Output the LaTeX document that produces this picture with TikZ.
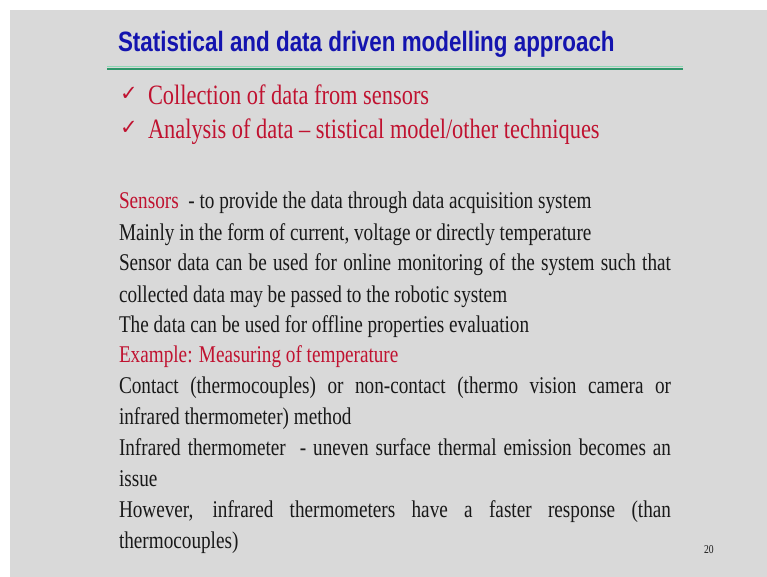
\documentclass[tikz,border=0pt]{standalone}
\usepackage{fontspec}
\setmainfont{Liberation Serif}[FakeStretch=0.8]
\newfontfamily\headfont{Liberation Sans}[FakeStretch=0.8]
\newfontfamily\tickfont{DejaVu Sans}
\definecolor{slidegray}{RGB}{217,217,217}
\definecolor{headblue}{RGB}{20,20,175}
\definecolor{slidered}{RGB}{192,18,48}
\definecolor{ruledark}{RGB}{45,150,105}
\definecolor{rulelight}{RGB}{140,215,180}
\definecolor{bodyink}{RGB}{25,25,25}
\tikzset{
  txt/.style={anchor=base west, inner sep=0pt, outer sep=0pt},
  headline/.style={txt, text=headblue, font=\headfont\bfseries\fontsize{28pt}{28pt}\selectfont},
  bullet/.style={txt, text=slidered, font=\fontsize{28pt}{28pt}\selectfont},
  tick/.style={txt, text=slidered, font=\tickfont\fontsize{21pt}{21pt}\selectfont},
  body/.style={txt, text=bodyink, font=\fontsize{24pt}{24pt}\selectfont},
  redbody/.style={body, text=slidered},
  pagenum/.style={txt, text=bodyink, font=\fontsize{12pt}{12pt}\selectfont}
}
\newcommand{\fullline}[1]{\makebox[552pt][s]{#1}}
\begin{document}
\begin{tikzpicture}[x=1pt,y=-1pt]
  \useasboundingbox (0,0) rectangle (767,577);
  \fill[white] (0,0) rectangle (767,577);
  \fill[slidegray] (10,10) rectangle (767,577);

  % heading and rule
  \node[headline] (title) at (118,52) {Statistical and data driven modelling approach};
  \draw[rulelight, line width=1.8pt] (107,66.6) -- (683,66.6);
  \draw[ruledark, line width=1.6pt] (107,68.9) -- (683,68.9);

  % ticked points
  \node[tick] (t1) at (120,101) {✓};
  \node[bullet] (b1) at (148,105) {Collection of data from sensors};
  \node[tick] (t2) at (120,135) {✓};
  \node[bullet] (b2) at (148,139) {Analysis of data – stistical model/other techniques};

  % body text
  \node[redbody] (l1r) at (119,208) {Sensors};
  \node[body] (l1) at (l1r.base east) {\ \ - to provide the data through data acquisition system};
  \node[body] (l2) at (119,240) {Mainly in the form of current, voltage or directly temperature};
  \node[body] (l3) at (119,270) {\fullline{Sensor data can be used for online monitoring of the system such that}};
  \node[body] (l4) at (119,302) {collected data may be passed to the robotic system};
  \node[body] (l5) at (119,332) {The data can be used for offline properties evaluation};
  \node[redbody] (l6) at (119,362) {Example: Measuring of temperature};
  \node[body] (l7) at (119,393) {\fullline{Contact (thermocouples) or non-contact (thermo vision camera or}};
  \node[body] (l8) at (119,424) {infrared thermometer) method};
  \node[body] (l9) at (119,455) {\fullline{Infrared thermometer\ \ - uneven surface thermal emission becomes an}};
  \node[body] (l10) at (119,486) {issue};
  \node[body] (l11) at (119,517) {\fullline{However, infrared thermometers have a faster response (than}};
  \node[body] (l12) at (119,548) {thermocouples)};

  \node[pagenum] (pg) at (704,553) {20};
\end{tikzpicture}
\end{document}
